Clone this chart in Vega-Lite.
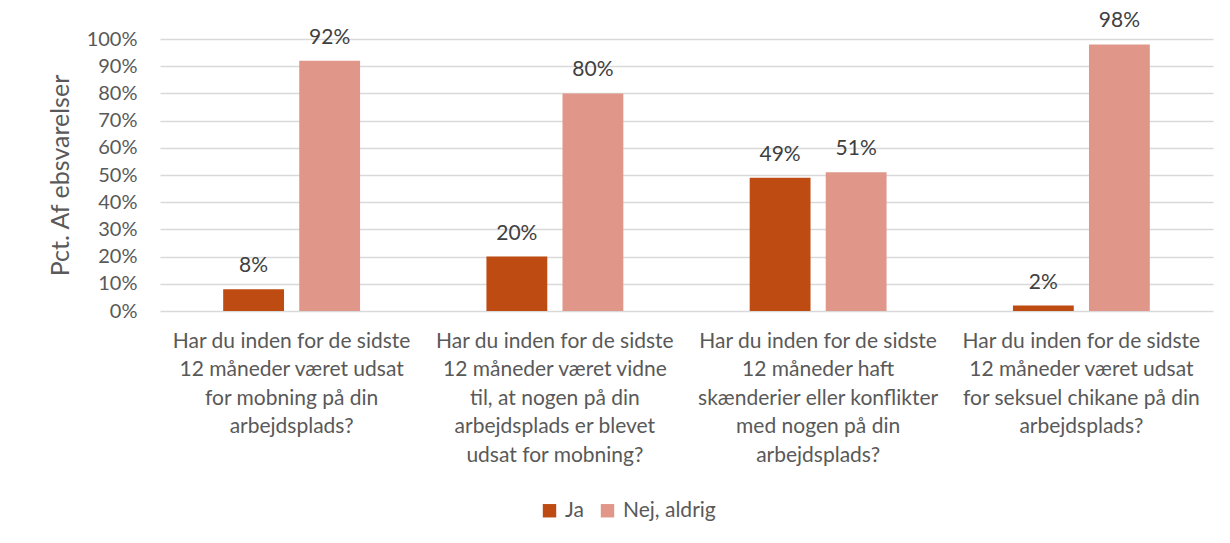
{
  "$schema": "https://vega.github.io/schema/vega-lite/v6.json",
  "width": 1053,
  "height": 272,
  "autosize": {"type": "none"},
  "padding": {"left": 160, "top": 39, "right": 17, "bottom": 232},
  "background": "white",
  "config": {
    "font": "Lato",
    "view": {"stroke": null},
    "axis": {"labelFont": "Lato", "titleFont": "Lato", "labelColor": "#595959", "titleColor": "#595959"},
    "legend": {"labelFont": "Lato"}
  },
  "data": {
    "values": [
      {"q": "Har du inden for de sidste|12 måneder været udsat|for mobning på din|arbejdsplads?", "svar": "Ja", "pct": 0.08, "order": 1},
      {"q": "Har du inden for de sidste|12 måneder været udsat|for mobning på din|arbejdsplads?", "svar": "Nej, aldrig", "pct": 0.92, "order": 1},
      {"q": "Har du inden for de sidste|12 måneder været vidne|til, at nogen på din|arbejdsplads er blevet|udsat for mobning?", "svar": "Ja", "pct": 0.20, "order": 2},
      {"q": "Har du inden for de sidste|12 måneder været vidne|til, at nogen på din|arbejdsplads er blevet|udsat for mobning?", "svar": "Nej, aldrig", "pct": 0.80, "order": 2},
      {"q": "Har du inden for de sidste|12 måneder haft|skænderier eller konflikter|med nogen på din|arbejdsplads?", "svar": "Ja", "pct": 0.49, "order": 3},
      {"q": "Har du inden for de sidste|12 måneder haft|skænderier eller konflikter|med nogen på din|arbejdsplads?", "svar": "Nej, aldrig", "pct": 0.51, "order": 3},
      {"q": "Har du inden for de sidste|12 måneder været udsat|for seksuel chikane på din|arbejdsplads?", "svar": "Ja", "pct": 0.02, "order": 4},
      {"q": "Har du inden for de sidste|12 måneder været udsat|for seksuel chikane på din|arbejdsplads?", "svar": "Nej, aldrig", "pct": 0.98, "order": 4}
    ]
  },
  "encoding": {
    "x": {
      "field": "q", "type": "nominal", "sort": {"field": "order"},
      "scale": {"paddingInner": 0.48, "paddingOuter": 0.24},
      "axis": {
        "title": null, "labelAngle": 0, "ticks": false, "domain": false,
        "labelExpr": "split(datum.label, '|')",
        "labelFontSize": 21, "labelLineHeight": 28.5, "labelPadding": 19,
        "labelLimit": 400, "labelBaseline": "top", "labelOverlap": false
      }
    },
    "xOffset": {"field": "svar", "type": "nominal", "scale": {"paddingInner": 0.2, "paddingOuter": 0}},
    "y": {
      "field": "pct", "type": "quantitative",
      "scale": {"domain": [0, 1]},
      "axis": {
        "title": "Pct. Af ebsvarelser", "format": ".0%", "values": [0, 0.1, 0.2, 0.3, 0.4, 0.5, 0.6, 0.7, 0.8, 0.9, 1],
        "labelOverlap": false,
        "ticks": false, "domain": false, "labelFontSize": 20, "labelPadding": 23,
        "titleFontSize": 25, "titleFontWeight": "normal", "titlePadding": 13,
        "gridColor": "#D9D9D9", "gridWidth": 1.3
      }
    }
  },
  "layer": [
    {
      "mark": {"type": "bar"},
      "encoding": {
        "color": {
          "field": "svar", "type": "nominal",
          "scale": {"domain": ["Ja", "Nej, aldrig"], "range": ["#BE4B12", "#E0978A"]},
          "legend": {
            "title": null, "orient": "none", "legendX": 379, "legendY": 461, "direction": "horizontal",
            "symbolType": "square", "symbolSize": 180, "symbolStrokeWidth": 0,
            "labelFontSize": 21, "labelColor": "#595959", "columnPadding": 13, "labelOffset": 5
          }
        }
      }
    },
    {
      "mark": {"type": "text", "baseline": "alphabetic", "dy": -17, "fontSize": 21, "color": "#404040"},
      "encoding": {
        "text": {"field": "pct", "type": "quantitative", "format": ".0%"}
      }
    }
  ]
}
